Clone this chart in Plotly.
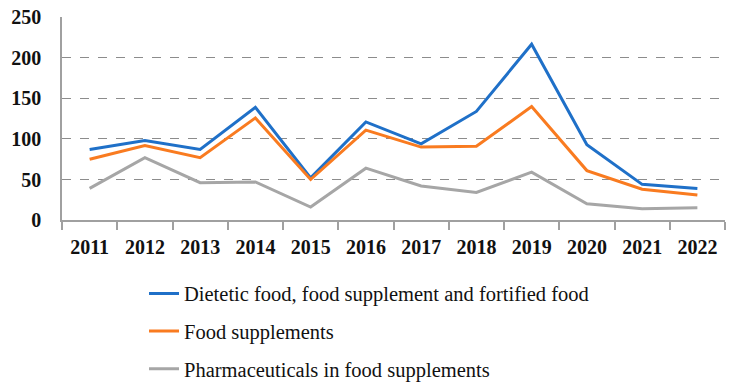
import plotly.graph_objects as go

years = ["2011", "2012", "2013", "2014", "2015", "2016", "2017", "2018", "2019", "2020", "2021", "2022"]
dietetic = [87, 98, 87, 139, 52, 121, 94, 134, 217, 93, 44, 39]
food_supp = [75, 92, 77, 126, 50, 111, 90, 91, 140, 61, 38, 31]
pharma = [39, 77, 46, 47, 16, 64, 42, 34, 59, 20, 14, 15]
names = ["Dietetic food, food supplement and fortified food",
         "Food supplements",
         "Pharmaceuticals in food supplements"]
colors = ["#1F70C8", "#F97B20", "#A6A6A6"]
y_ticks = [0, 50, 100, 150, 200, 250]

fig = go.Figure()
for i, (vals, nm, col) in enumerate(zip([dietetic, food_supp, pharma], names, colors)):
    fig.add_trace(go.Scatter(x=years, y=vals, name=nm, mode="lines",
                             line=dict(color=col, width=3),
                             legendgroup=str(i)))

tfont = dict(family="Liberation Serif", size=20, color="#111111", weight="bold")
fig.update_layout(
    width=732, height=390,
    margin=dict(l=62, r=7, t=17, b=170, autoexpand=False),
    paper_bgcolor="white", plot_bgcolor="white",
    showlegend=True,
    legend=dict(x=0.1237, y=-0.264, xanchor="left", yanchor="top",
                font=dict(family="Liberation Serif", size=20.5, color="#111111"),
                traceorder="grouped", tracegroupgap=8,
                bgcolor="rgba(0,0,0,0)"),
    xaxis=dict(type="category", range=[-0.5, 11.5], automargin=False,
               showline=True, linecolor="#A0A0A0", linewidth=1.5,
               ticks="outside", tickson="boundaries", ticklen=8, tickcolor="#A0A0A0",
               tickwidth=1.5, showgrid=False, tickfont=tfont, ticklabelstandoff=8),
    yaxis=dict(range=[0, 250.6], tickvals=y_ticks, automargin=False,
               showline=True, linecolor="#A0A0A0",
               linewidth=1.5, showgrid=True, gridcolor="#8C8C8C", griddash="dash",
               gridwidth=1, zeroline=False, ticks="", ticklabelstandoff=15,
               tickfont=tfont),
)
fig.write_html("out.html", config={"displayModeBar": False},
               post_script="document.body.style.margin='0px';")
